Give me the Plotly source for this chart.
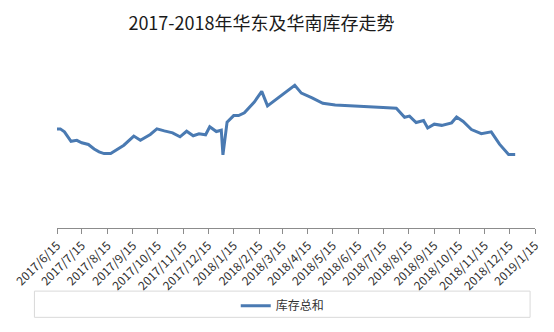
import plotly.graph_objects as go

dates = [
    "2017-06-15", "2017-06-19", "2017-06-24", "2017-07-02", "2017-07-09", "2017-07-15",
    "2017-07-23", "2017-07-30", "2017-08-05", "2017-08-11", "2017-08-19", "2017-08-27",
    "2017-09-04", "2017-09-16", "2017-09-24", "2017-10-06", "2017-10-14", "2017-10-23",
    "2017-11-02", "2017-11-11", "2017-11-19", "2017-11-27", "2017-12-04", "2017-12-12",
    "2017-12-17", "2017-12-25", "2017-12-31", "2018-01-02", "2018-01-07", "2018-01-15",
    "2018-01-21", "2018-01-28", "2018-02-09", "2018-02-18", "2018-02-25", "2018-03-30",
    "2018-04-07", "2018-04-20", "2018-05-03", "2018-05-18", "2018-05-30", "2018-06-09",
    "2018-06-29", "2018-07-15", "2018-07-31", "2018-08-10", "2018-08-16", "2018-08-24",
    "2018-09-02", "2018-09-07", "2018-09-15", "2018-09-24", "2018-10-06", "2018-10-12",
    "2018-10-20", "2018-10-30", "2018-11-11", "2018-11-23", "2018-12-03", "2018-12-14",
    "2018-12-22",
]
inventory = [
    59.0, 59.0, 57.2, 51.6, 52.2, 50.7,
    49.7, 47.0, 45.3, 44.3, 44.3, 46.8,
    49.3, 54.7, 52.2, 55.7, 59.0, 57.8,
    56.6, 54.3, 57.6, 54.9, 56.1, 55.5,
    60.3, 57.4, 58.2, 43.5, 63.0, 66.9,
    66.9, 68.6, 75.0, 81.3, 72.7, 85.0,
    80.3, 77.5, 74.2, 73.2, 73.0, 72.4,
    72.4, 71.8, 71.3, 65.9, 66.6, 62.8,
    64.0, 59.5, 61.8, 61.1, 62.6, 66.1,
    63.4, 58.6, 56.1, 57.2, 49.9, 43.8,
    43.8,
]
tick_dates = [
    "2017-06-15", "2017-07-15", "2017-08-15", "2017-09-15", "2017-10-15", "2017-11-15",
    "2017-12-15", "2018-01-15", "2018-02-15", "2018-03-15", "2018-04-15", "2018-05-15",
    "2018-06-15", "2018-07-15", "2018-08-15", "2018-09-15", "2018-10-15", "2018-11-15",
    "2018-12-15", "2019-01-15",
]
tick_labels = [
    "2017/6/15", "2017/7/15", "2017/8/15", "2017/9/15", "2017/10/15", "2017/11/15",
    "2017/12/15", "2018/1/15", "2018/2/15", "2018/3/15", "2018/4/15", "2018/5/15",
    "2018/6/15", "2018/7/15", "2018/8/15", "2018/9/15", "2018/10/15", "2018/11/15",
    "2018/12/15", "2019/1/15",
]

FONT = "Noto Sans CJK SC"

fig = go.Figure()
fig.add_trace(go.Scatter(
    x=dates, y=inventory, mode="lines", name="库存总和",
    line=dict(color="#4a7ab2", width=3),
))

fig.update_layout(
    width=554, height=332,
    margin=dict(l=48, r=19, t=60, b=99),
    paper_bgcolor="white", plot_bgcolor="white",
    font=dict(family=FONT, color="#404040"),
    title=dict(
        text="2017-2018年华东及华南库存走势",
        x=0.472, xanchor="center", y=1 - 24 / 332, yanchor="middle",
        xref="container", yref="container",
        font=dict(family=FONT, size=18, color="#1a1a1a"),
    ),
    showlegend=True,
    legend=dict(
        orientation="h", x=(278 - 48) / 487, xanchor="center",
        y=(233 - 313) / 173, yanchor="middle",
        font=dict(family=FONT, size=12, color="#333333"),
        bgcolor="rgba(0,0,0,0)",
    ),
    xaxis=dict(
        type="date",
        range=["2017-06-15", "2019-01-15"],
        tickmode="array", tickvals=tick_dates, ticktext=tick_labels,
        tickangle=-45, ticks="outside", ticklen=5, tickcolor="#8c8c8c",
        showline=True, linecolor="#8c8c8c", linewidth=1,
        showgrid=False, zeroline=False,
        tickfont=dict(family=FONT, size=12, color="#303030"),
    ),
    yaxis=dict(
        range=[0, 100], visible=False, showgrid=False, zeroline=False,
    ),
    shapes=[
        dict(
            type="rect", xref="paper", yref="paper",
            x0=(25 - 48) / 487, x1=(530 - 48) / 487,
            y0=(233 - 325) / 173, y1=(233 - 298) / 173,
            line=dict(color="#d9d9d9", width=1), fillcolor="rgba(0,0,0,0)",
            layer="below",
        )
    ],
)

fig.write_html("out.html")
